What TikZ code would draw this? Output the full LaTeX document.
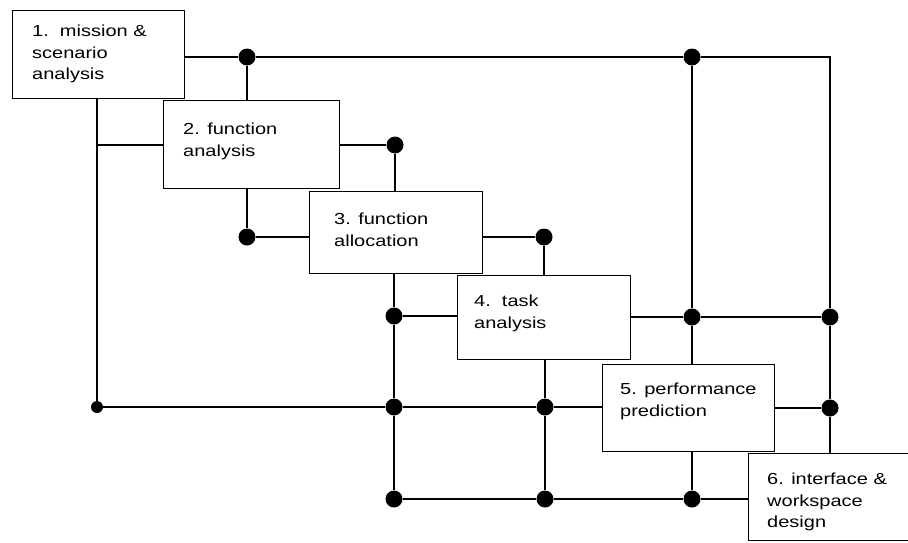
\documentclass[tikz,border=0pt]{standalone}
\usepackage{fontspec}
\setmainfont{Liberation Sans}[FakeStretch=1.25]
\usepackage{tikz}

\begin{document}
\begin{tikzpicture}[x=1pt,y=-1pt,
    stage/.style={draw, line width=1.2pt, anchor=north west, inner sep=0pt},
    caption/.style={anchor=north west, inner sep=0pt, align=left,
      font=\fontsize{16}{21.5}\selectfont},
    dot/.style={circle, fill, inner sep=0pt, minimum size=17pt},
    smalldot/.style={circle, fill, inner sep=0pt, minimum size=12pt},
    wire/.style={line width=1.2pt}]
  \useasboundingbox (0,0) rectangle (908,542);
  % the six stages
  \node[stage, minimum width=172pt, minimum height=88pt] (b1) at (12,10) {};
  \node[stage, minimum width=176pt, minimum height=88pt] (b2) at (163,100) {};
  \node[stage, minimum width=173pt, minimum height=82pt] (b3) at (309,191) {};
  \node[stage, minimum width=173pt, minimum height=84pt] (b4) at (457,275) {};
  \node[stage, minimum width=172pt, minimum height=87pt] (b5) at (602,364) {};
  \node[stage, minimum width=175pt, minimum height=87pt] (b6) at (748,453) {};
  \node[caption] (t1) at (32,25) {1.~~mission \&\\scenario\\analysis};
  \node[caption] (t2) at (183,123) {2. function\\analysis};
  \node[caption] (t3) at (334,213) {3. function\\allocation};
  \node[caption] (t4) at (474,295) {4.~~task\\analysis};
  \node[caption] (t5) at (620,383) {5. performance\\prediction};
  \node[caption] (t6) at (767,473) {6. interface \&\\workspace\\design};
  % junctions
  \node[dot] (dA) at (247,57) {};
  \node[dot] (dB) at (692,57) {};
  \node[dot] (dC) at (395,145) {};
  \node[dot] (dD) at (247,237) {};
  \node[dot] (dE) at (544,237) {};
  \node[dot] (dF) at (394,316) {};
  \node[dot] (dG) at (692,317) {};
  \node[dot] (dH) at (830,317) {};
  \node[smalldot] (dI) at (97,407) {};
  \node[dot] (dJ) at (394,407) {};
  \node[dot] (dK) at (545,407) {};
  \node[dot] (dL) at (830,408) {};
  \node[dot] (dM) at (394,499) {};
  \node[dot] (dN) at (545,499) {};
  \node[dot] (dO) at (692,499) {};
  \coordinate (c1) at (830,57);
  \coordinate (c2) at (97,145);
  % connections
  \draw[wire] (b1.east |- dA) -- (dA) -- (dB) -- (c1) -- (dH) -- (dL) -- (dL |- b6.north);
  \draw[wire] (dA) -- (dA |- b2.north);
  \draw[wire] (c2 |- b1.south) -- (dI) -- (dJ) -- (dK) -- (dK -| b5.west);
  \draw[wire] (c2) -- (c2 -| b2.west);
  \draw[wire] (b2.east |- dC) -- (dC) -- (dC |- b3.north);
  \draw[wire] (dD |- b2.south) -- (dD) -- (dD -| b3.west);
  \draw[wire] (b3.east |- dE) -- (dE) -- (dE |- b4.north);
  \draw[wire] (dF |- b3.south) -- (dF) -- (dJ) -- (dM);
  \draw[wire] (dF) -- (dF -| b4.west);
  \draw[wire] (b4.east |- dG) -- (dG) -- (dH);
  \draw[wire] (dK |- b4.south) -- (dK) -- (dN);
  \draw[wire] (dB) -- (dG) -- (dG |- b5.north);
  \draw[wire] (dO |- b5.south) -- (dO);
  \draw[wire] (dM) -- (dN) -- (dO) -- (dO -| b6.west);
  \draw[wire] (b5.east |- dL) -- (dL);
\end{tikzpicture}
\end{document}
